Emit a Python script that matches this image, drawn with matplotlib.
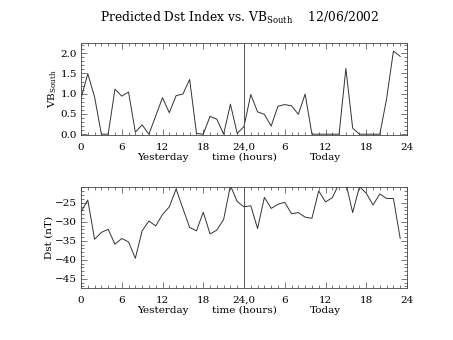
import matplotlib
matplotlib.use("Agg")
import matplotlib.pyplot as plt
from matplotlib.ticker import MultipleLocator, FixedLocator

plt.rcParams['font.family'] = ['DejaVu Serif']
plt.rcParams['mathtext.fontset'] = 'dejavuserif'

hours = list(range(48))
vb_south = [0.88, 1.49, 0.92, 0.0, 0.0, 1.11, 0.94, 1.04, 0.05, 0.23,
            0.0, 0.45, 0.90, 0.53, 0.95, 0.99, 1.35, 0.02, 0.0, 0.44,
            0.37, 0.0, 0.74, 0.02, 0.19, 0.98, 0.55, 0.49, 0.20, 0.69,
            0.73, 0.70, 0.49, 0.99, 0.0, 0.0, 0.0, 0.0, 0.0, 1.62,
            0.15, 0.0, 0.0, 0.0, 0.0, 0.88, 2.05, 1.92]
dst = [-27.4, -24.3, -34.6, -32.8, -32.0, -35.9, -34.4, -35.3, -39.6, -32.4,
       -29.8, -31.1, -28.1, -26.1, -21.4, -26.5, -31.5, -32.4, -27.5, -33.2,
       -32.2, -29.4, -20.5, -24.7, -26.1, -25.8, -31.8, -23.6, -26.5, -25.4,
       -24.9, -27.9, -27.6, -28.8, -29.1, -21.9, -24.8, -23.7, -20.0, -19.8,
       -27.6, -20.8, -22.5, -25.6, -22.7, -23.9, -23.9, -34.4]
xtick_pos = [0, 6, 12, 18, 24, 30, 36, 42, 48]
xtick_labels = ['0', '6', '12', '18', '24,0', '6', '12', '18', '24']
day_labels = ['Yesterday', 'time (hours)', 'Today']
day_pos = [12, 24, 36]
title = r'Predicted Dst Index vs. VB$_{\mathrm{South}}$    12/06/2002'

fig = plt.figure(figsize=(4.53, 3.40), dpi=100)
ax1 = fig.add_axes([81/453, 1-135/340, 326/453, 92/340])
ax2 = fig.add_axes([81/453, 1-288/340, 326/453, 101.3/340])

fs = 7.5
lc = '#333333'

def style(ax):
    ax.set_xlim(0, 48)
    ax.xaxis.set_major_locator(FixedLocator(xtick_pos))
    ax.set_xticklabels(xtick_labels, fontsize=fs)
    ax.xaxis.set_minor_locator(MultipleLocator(1))
    ax.tick_params(which='both', direction='in', top=True, right=True,
                   width=0.5, color='#444444', labelsize=fs)
    ax.tick_params(axis='x', which='major', pad=5.5)
    ax.tick_params(axis='y', which='major', pad=3)
    ax.tick_params(which='major', length=4)
    ax.tick_params(which='minor', length=2)
    for s in ax.spines.values():
        s.set_linewidth(0.6)
        s.set_color('#444444')
    ax.axvline(24, color='#555555', lw=0.7)
    for p, t in zip(day_pos, day_labels):
        ax.annotate(t, xy=(p, 0), xycoords=ax.get_xaxis_transform(),
                    xytext=(0, -18.0), textcoords='offset points',
                    ha='center', va='baseline', fontsize=fs)

ax1.plot(hours, vb_south, color=lc, lw=0.7)
style(ax1)
ax1.set_ylim(-0.02, 2.25)
ax1.yaxis.set_minor_locator(MultipleLocator(0.1))
ax1.set_yticks([0.0, 0.5, 1.0, 1.5, 2.0])
ax1.set_yticklabels(['0.0', '0.5', '1.0', '1.5', '2.0'], fontsize=fs)
ax1.set_ylabel(r'VB$_{\mathrm{South}}$', fontsize=fs, labelpad=1)

ax2.plot(hours, dst, color=lc, lw=0.7)
style(ax2)
ax2.set_ylim(-47.4, -20.8)
ax2.set_yticks([-45, -40, -35, -30, -25])
ax2.set_yticklabels(['\u221245', '\u221240', '\u221235', '\u221230', '\u221225'], fontsize=fs)
ax2.yaxis.set_minor_locator(MultipleLocator(1))
ax2.set_ylabel('Dst (nT)', fontsize=fs, labelpad=1)

fig.text(240/453, 1-18/340, title, ha='center', va='center', fontsize=8.8)

fig.savefig('out.png', dpi=100)
